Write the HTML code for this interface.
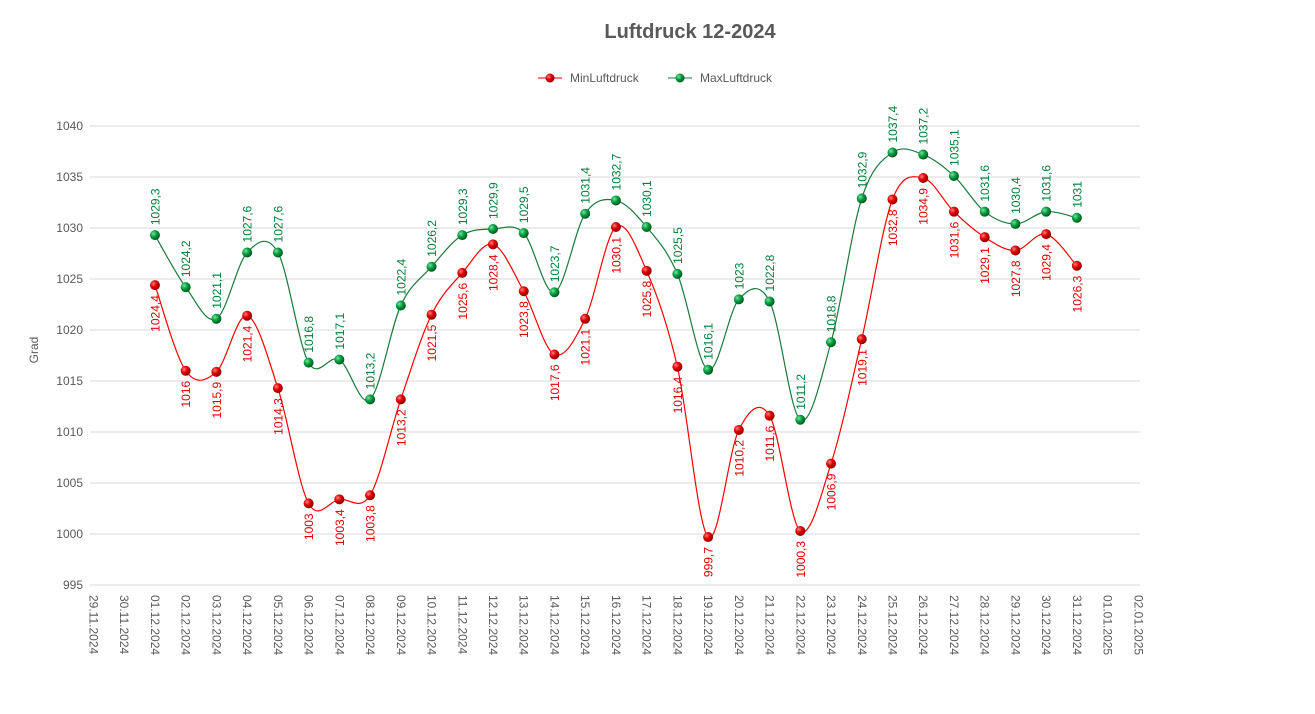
<!DOCTYPE html>
<html><head><meta charset="utf-8"><style>
body{margin:0;background:#fff;}
svg{display:block;font-family:"Liberation Sans",sans-serif;}
</style></head><body>
<svg id="c" width="1315" height="714" xmlns="http://www.w3.org/2000/svg">
<defs>
<radialGradient id="gr" cx="35%" cy="35%" r="65%"><stop offset="0" stop-color="#ff8080"/><stop offset="0.5" stop-color="#e00000"/><stop offset="1" stop-color="#900000"/></radialGradient>
<radialGradient id="gg" cx="35%" cy="35%" r="65%"><stop offset="0" stop-color="#7fe0a0"/><stop offset="0.5" stop-color="#00a040"/><stop offset="1" stop-color="#005a20"/></radialGradient>
</defs>
<text x="690" y="38" text-anchor="middle" font-size="20" font-weight="bold" fill="#595959">Luftdruck 12-2024</text>
<line x1="538" y1="78" x2="562" y2="78" stroke="#e00000"/><circle cx="550" cy="78" r="4.5" fill="url(#gr)"/>
<text x="570" y="82" font-size="12" fill="#595959">MinLuftdruck</text>
<line x1="668" y1="78" x2="692" y2="78" stroke="#1a7a3a"/><circle cx="680" cy="78" r="4.5" fill="url(#gg)"/>
<text x="700" y="82" font-size="12" fill="#595959">MaxLuftdruck</text>
<text transform="translate(38,350) rotate(-90)" text-anchor="middle" font-size="12" fill="#595959">Grad</text>
<g id="g"></g>
</svg>
<script>
var g=document.getElementById('g'),h='';
function Y(v){return 585-(v-995)*10.2;}
function X(i){return 93.5+i*30.73;}
for(var v=995;v<=1040;v+=5){var y=Y(v);h+='<line x1="90" x2="1140" y1="'+y+'" y2="'+y+'" stroke="#d9d9d9"/>';h+='<text x="83" y="'+(y+4)+'" text-anchor="end" font-size="12" fill="#595959">'+v+'</text>';}
var lab=['29.11.2024','30.11.2024'];for(var d=1;d<=31;d++)lab.push((d<10?'0':'')+d+'.12.2024');lab.push('01.01.2025','02.01.2025');
lab.forEach(function(l,i){h+='<text transform="translate('+(X(i)-4)+',595) rotate(90)" font-size="12" fill="#595959">'+l+'</text>';});
var mx=[1029.3,1024.2,1021.1,1027.6,1027.6,1016.8,1017.1,1013.2,1022.4,1026.2,1029.3,1029.9,1029.5,1023.7,1031.4,1032.7,1030.1,1025.5,1016.1,1023,1022.8,1011.2,1018.8,1032.9,1037.4,1037.2,1035.1,1031.6,1030.4,1031.6,1031];
var mn=[1024.4,1016,1015.9,1021.4,1014.3,1003,1003.4,1003.8,1013.2,1021.5,1025.6,1028.4,1023.8,1017.6,1021.1,1030.1,1025.8,1016.4,999.7,1010.2,1011.6,1000.3,1006.9,1019.1,1032.8,1034.9,1031.6,1029.1,1027.8,1029.4,1026.3];
function path(a){var p=a.map(function(v,i){return [X(i+2),Y(v)];});var s='M'+p[0][0]+','+p[0][1];
for(var i=0;i<p.length-1;i++){var p0=p[i-1]||p[i],p1=p[i],p2=p[i+1],p3=p[i+2]||p2,t=1/6;
s+=' C'+(p1[0]+(p2[0]-p0[0])*t)+','+(p1[1]+(p2[1]-p0[1])*t)+' '+(p2[0]-(p3[0]-p1[0])*t)+','+(p2[1]-(p3[1]-p1[1])*t)+' '+p2[0]+','+p2[1];}return s;}
h+='<path d="'+path(mn)+'" fill="none" stroke="#ff0000" stroke-width="1.2"/>';
h+='<path d="'+path(mx)+'" fill="none" stroke="#1a7a3a" stroke-width="1.2"/>';
function f(v){return String(v).replace('.',',');}
mn.forEach(function(v,i){var x=X(i+2),y=Y(v);h+='<circle cx="'+x+'" cy="'+y+'" r="5" fill="url(#gr)"/>';h+='<text transform="translate('+(x+4.5)+','+(y+10)+') rotate(-90)" text-anchor="end" font-size="12" fill="#e00000">'+f(v)+'</text>';});
mx.forEach(function(v,i){var x=X(i+2),y=Y(v);h+='<circle cx="'+x+'" cy="'+y+'" r="5" fill="url(#gg)"/>';h+='<text transform="translate('+(x+4.5)+','+(y-10)+') rotate(-90)" font-size="12" fill="#00803a">'+f(v)+'</text>';});
g.innerHTML=h;
</script>
</body></html>
